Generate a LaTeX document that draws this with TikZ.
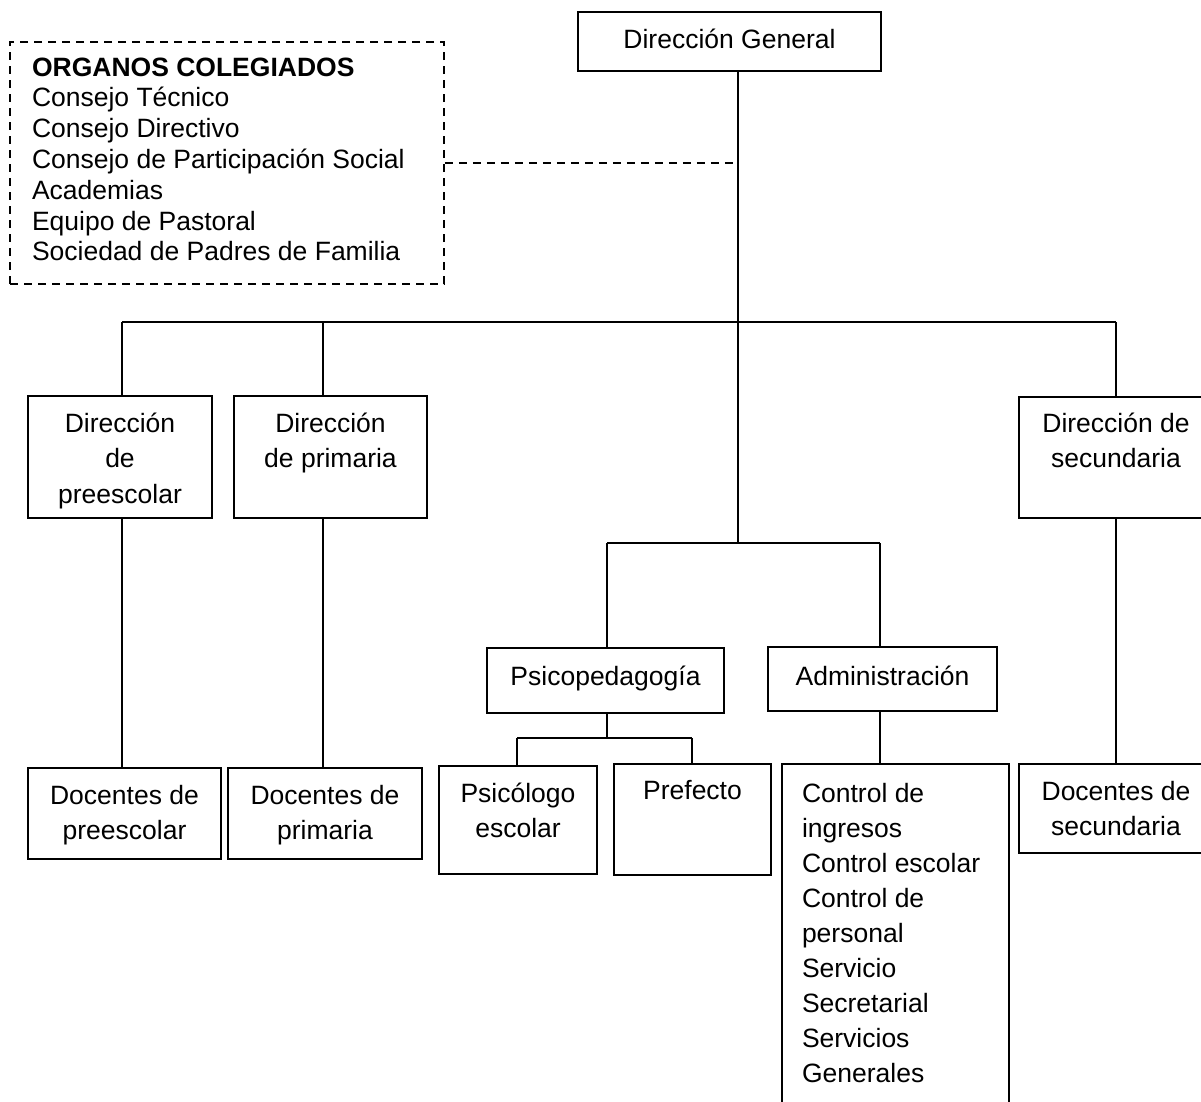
\documentclass[tikz,border=0pt]{standalone}
\usepackage{fontspec}
\setmainfont{Liberation Sans}

% caja: ancho, alto, primera linea, texto
\newcommand{\cajatxt}[4]{\parbox[c][#2pt][t]{#1pt}{\centering\rule{0pt}{#3pt}#4}}
% lista: ancho, alto, primera linea, sangria, texto
\newcommand{\listatxt}[5]{\parbox[c][#2pt][t]{#1pt}{\raggedright\leftskip=#4pt\rule{0pt}{#3pt}#5}}

\begin{document}
\begin{tikzpicture}[
			x = 1pt, y = -1pt,
			caja/.style = {draw, line width = 1.8pt, inner sep = 0pt, font = \fontsize{26.5}{35.5}\selectfont},
			linea/.style = {line width = 1.8pt},
			punteada/.style = {line width = 1.8pt, dash pattern = on 8pt off 6pt}
			]

			\fill[white] (0,0) rectangle (1201,1101);
			\useasboundingbox (0,0) rectangle (1201,1101);

			\node[caja] (dg) at (729.5,41.5) {\cajatxt{303}{59}{36}{Dirección General}};
			\node[caja, punteada, font = \fontsize{26.5}{30.8}\selectfont] (organos) at (227,163)
				{\listatxt{434}{242}{34}{22}{\textbf{ORGANOS COLEGIADOS}\\Consejo Técnico\\Consejo Directivo\\Consejo de Participación Social\\Academias\\Equipo de Pastoral\\Sociedad de Padres de Familia}};

			\node[caja] (pre) at (120,457) {\cajatxt{184}{122}{36}{Dirección\\de\\preescolar}};
			\node[caja] (pri) at (330.5,457) {\cajatxt{193}{122}{36}{Dirección\\de primaria}};
			\node[caja] (sec) at (1116,457.5) {\cajatxt{194}{121}{35}{Dirección de\\secundaria}};

			\node[caja] (psi) at (605.5,680.5) {\cajatxt{237}{65}{37.5}{Psicopedagogía}};
			\node[caja] (adm) at (882.5,679) {\cajatxt{229}{64}{38.5}{Administración}};

			\node[caja] (dpre) at (124.5,813.5) {\cajatxt{193}{91}{36}{Docentes de\\preescolar}};
			\node[caja] (dpri) at (325,813.5) {\cajatxt{194}{91}{36}{Docentes de\\primaria}};
			\node[caja] (psg) at (518,820) {\cajatxt{158}{108}{36}{Psicólogo\\escolar}};
			\node[caja] (pref) at (692.5,819.5) {\cajatxt{157}{111}{35}{Prefecto}};
			\node[caja, font = \fontsize{26.5}{35.1}\selectfont] (ctrl) at (895.5,942)
				{\listatxt{227}{356}{38}{20}{Control de\\ingresos\\Control escolar\\Control de\\personal\\Servicio\\Secretarial\\Servicios\\Generales}};
			\node[caja] (dsec) at (1116,808.5) {\cajatxt{194}{89}{36}{Docentes de\\secundaria}};

			% ramas
			\coordinate (jdg) at (738,322);
			\coordinate (jadm) at (738,543);
			\coordinate (bpre) at (122,322);
			\coordinate (bpri) at (323,322);
			\coordinate (bsec) at (1116,322);
			\coordinate (bpsi) at (607,543);
			\coordinate (badm) at (880,543);
			\coordinate (jpsi) at (607,738);
			\coordinate (bpsg) at (517,738);
			\coordinate (bpref) at (692,738);

			\draw[linea] (jdg |- dg.south) -- (jadm);
			\draw[punteada] (organos.east) -- (jdg |- organos.east);
			\draw[linea] (bpre) -- (bsec);

			\foreach \b/\n/\d in {bpre/pre/dpre, bpri/pri/dpri, bsec/sec/dsec}{
				\draw[linea] (\b) -- (\b |- \n.north);
				\draw[linea] (\b |- \n.south) -- (\b |- \d.north);
			}

			\draw[linea] (bpsi) -- (badm);
			\draw[linea] (bpsi) -- (bpsi |- psi.north);
			\draw[linea] (badm) -- (badm |- adm.north);
			\draw[linea] (badm |- adm.south) -- (badm |- ctrl.north);

			\draw[linea] (bpsi |- psi.south) -- (jpsi);
			\draw[linea] (bpsg) -- (bpref);
			\draw[linea] (bpsg) -- (bpsg |- psg.north);
			\draw[linea] (bpref) -- (bpref |- pref.north);

		\end{tikzpicture}
\end{document}
